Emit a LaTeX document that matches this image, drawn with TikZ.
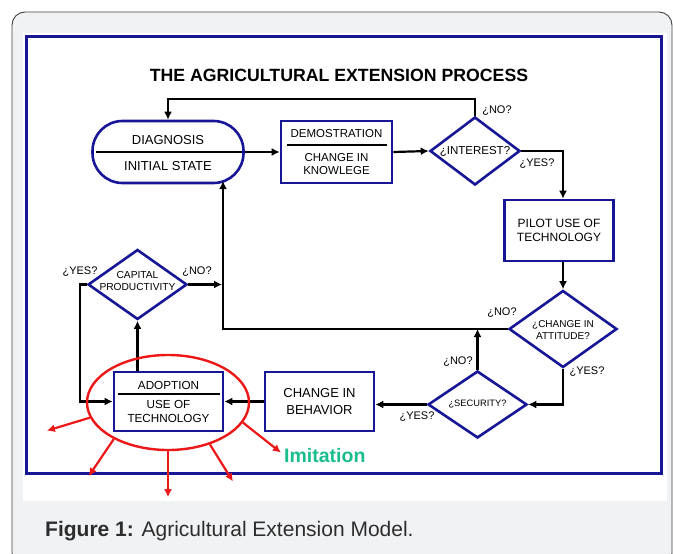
\documentclass[tikz,border=0pt]{standalone}
\usepackage{fontspec}
\setmainfont{Liberation Sans}
\usepackage{xcolor}
\usetikzlibrary{arrows.meta, calc, shapes.geometric}
\definecolor{boxblue}{RGB}{22,22,150}
\definecolor{ringred}{RGB}{236,24,24}
\definecolor{imitgreen}{RGB}{26,190,142}
\definecolor{panelgray}{RGB}{241,242,244}
\definecolor{captiongray}{RGB}{45,45,45}
\providecommand{\fs}[2]{\fontsize{#1}{#2}\selectfont}

\tikzset{
  box/.style={draw=boxblue, line width=2.6pt, minimum width=109pt, minimum height=59pt, inner sep=0pt},
  stadium/.style={box, minimum width=151pt, minimum height=62pt, rounded corners=30pt},
  dia/.style={diamond, draw=boxblue, line width=2.6pt, inner sep=0pt},
  divider/.style={black, line width=1.4pt},
  flow/.style={-{Latex[length=8pt, width=8pt]}, line width=2.2pt},
  redflow/.style={-{Latex[length=8pt, width=8pt]}, ringred, line width=2.2pt},
  lbl/.style={font=\fs{11}{13}, inner sep=0pt},
  txt/.style 2 args={font=\fs{#1}{#2}, inner sep=0pt, align=center}
}

\begin{document}
\begin{tikzpicture}[x=1pt, y=-1pt]

	\useasboundingbox (0,0) rectangle (673,554);

	% panel and frame
	\filldraw[fill=panelgray, draw=black!75, line width=0.9pt, rounded corners=13pt] (12,12) rectangle (672,566);
	\fill[white] (23,33) rectangle (667,501);
	\draw[boxblue, line width=3pt] (26,36) rectangle (661,473);

	\node[font=\bfseries\fs{17.7}{20}] (title) at (339,75) {THE AGRICULTURAL EXTENSION PROCESS};

	% boxes
	\node[stadium] (diag) at (168,152) {};
	\draw[divider] ($(diag.west)+(5,0)$) -- ($(diag.east)+(-3,0)$);
	\node[txt={13}{16}] (diagA) at (168,140) {DIAGNOSIS};
	\node[txt={13}{16}] (diagB) at (168,166) {INITIAL STATE};

	\node[box, minimum width=111pt, minimum height=62pt] (demo) at (336.5,152) {};
	\draw[divider] (287,145) -- (387,145);
	\node[txt={11.5}{13.5}] (demoA) at (336.5,133.5) {DEMOSTRATION};
	\node[txt={11.5}{13.5}] (demoB) at (336.5,164) {CHANGE IN\\KNOWLEGE};

	\node[dia, minimum width=90pt, minimum height=68pt] (interest) at (475,151) {};
	\node[txt={11.5}{13}] (interestT) at (475,151) {¿INTEREST?};

	\node[box, minimum height=61pt, txt={12}{14}] (pilot) at (559,230.5) {PILOT USE OF\\TECHNOLOGY};

	\node[dia, minimum width=108pt, minimum height=77pt] (attitude) at (563,329) {};
	\node[txt={10}{12}] (attitudeT) at (563,330) {¿CHANGE IN\\ATTITUDE?};

	\node[dia, minimum width=99pt, minimum height=67pt] (security) at (477.5,404.5) {};
	\node[txt={9.3}{11}] (securityT) at (477.5,404.5) {¿SECURITY?};

	\node[box, txt={13}{16.5}] (behavior) at (319.5,401.5) {CHANGE IN\\BEHAVIOR};

	\node[box] (adoption) at (168.5,401.5) {};
	\draw[divider] (118,394) -- (220,394);
	\node[txt={11.7}{14.5}] (adoptA) at (168.5,385) {ADOPTION};
	\node[txt={11.7}{14.5}] (adoptB) at (168.5,411.5) {USE OF\\TECHNOLOGY};

	\node[dia, minimum width=99pt, minimum height=70pt] (capital) at (137.5,284.5) {};
	\node[txt={10.2}{12}] (capitalT) at (137.5,280.5) {CAPITAL\\PRODUCTIVITY};

	% connectors
	\coordinate (loop) at (223,329);
	\draw[flow] (diag.east) -- (demo.west);
	\draw[flow] (demo.west -| demo.east) -- (interest.west);
	\draw[flow] (interest.north) -- ++(0,-17) -| (diag.north);
	\draw[flow] (interest.east) -| (pilot.north -| attitude.north);
	\draw[flow] (pilot.south -| attitude.north) -- (attitude.north);
	\draw[flow] (attitude.west) -- (loop) -- (223,181);
	\draw[flow] (attitude.south) |- (security.east);
	\draw[flow] (security.north) -- (security.north |- loop);
	\draw[flow] (security.west) -- (security.west -| behavior.east);
	\draw[flow] (behavior.west) -- (adoption.east);
	\draw[flow] (capital.south |- adoption.north) -- (capital.south);
	\draw[flow] (capital.east) -- ($(capital.east -| loop)+(-1,0)$);
	\draw[flow] (capital.west) -- ++(-7,0) |- (adoption.west);

	% answers
	\node[lbl] (intNo) at (497,111) {¿NO?};
	\node[lbl] (intYes) at (537,164) {¿YES?};
	\node[lbl] (attNo) at (502,313) {¿NO?};
	\node[lbl] (attYes) at (587,372) {¿YES?};
	\node[lbl] (secNo) at (458,362) {¿NO?};
	\node[lbl] (secYes) at (417,417) {¿YES?};
	\node[lbl] (capYes) at (80,272) {¿YES?};
	\node[lbl] (capNo) at (197,272) {¿NO?};

	% spreading of adoption
	\node[ellipse, draw=ringred, line width=2.4pt, minimum width=162pt, minimum height=95pt] (ring) at (168,402.5) {};
	\draw[redflow] (ring.191) -- ++(-43,13);
	\draw[redflow] (ring.214) -- ++(-25,37);
	\draw[redflow] (ring.270) -- ++(0,46);
	\draw[redflow] (ring.315) -- ++(23,37);
	\draw[redflow] (ring.345) -- ++(38,30);
	\node[font=\bfseries\fs{19.5}{22}, text=imitgreen, anchor=west, inner sep=0pt] (imit) at (284,456) {Imitation};

	\node[font=\fs{21}{24}, text=captiongray, anchor=west, inner sep=0pt] (caption) at (45,531) {\textbf{Figure 1:} Agricultural Extension Model.};

\end{tikzpicture}
\end{document}
